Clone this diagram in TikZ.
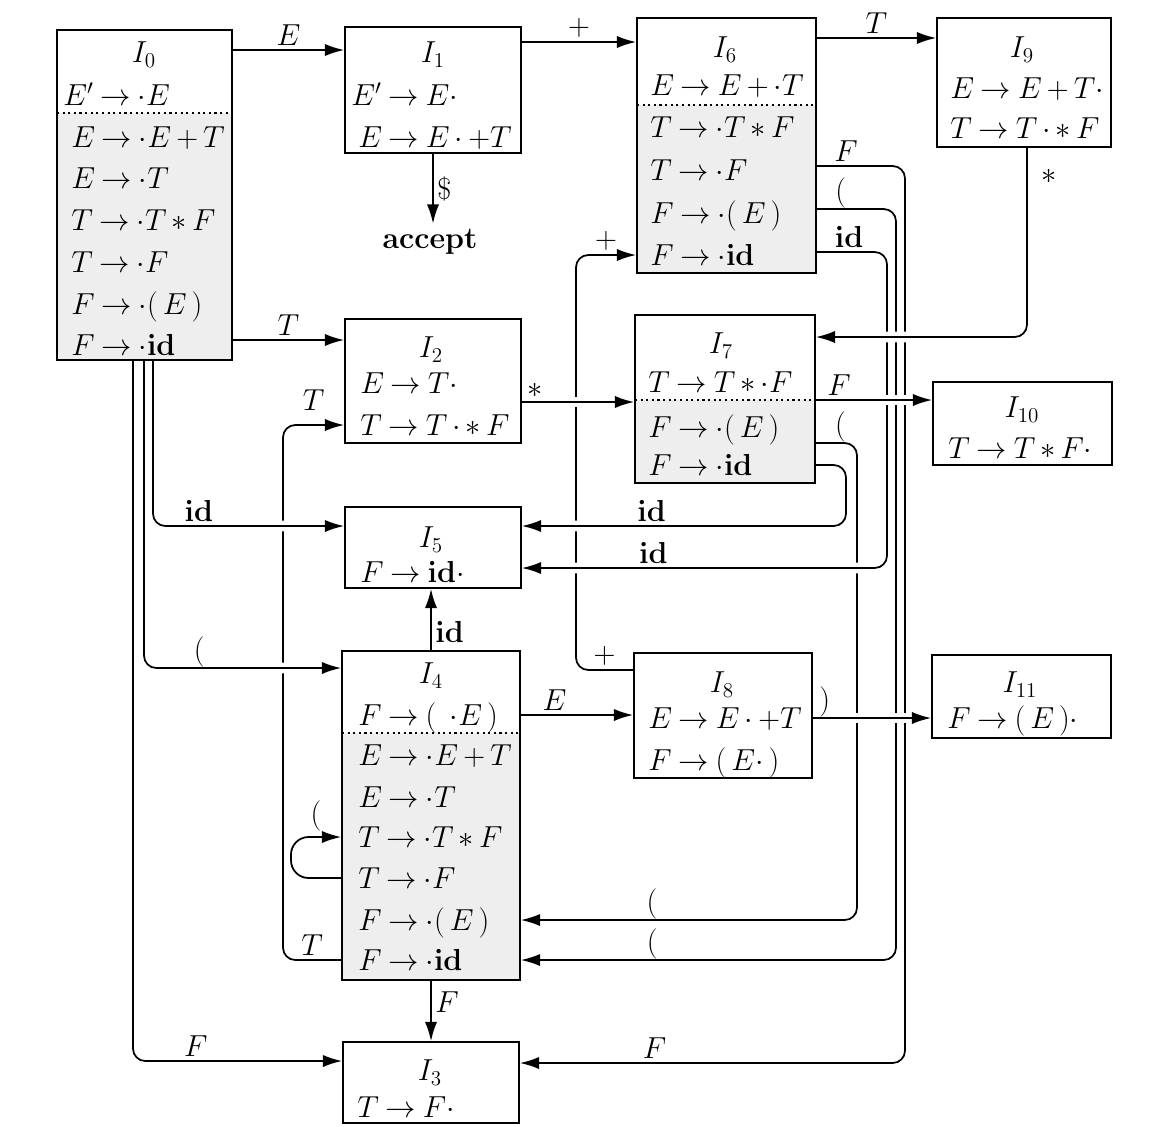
\documentclass[tikz,border=0pt]{standalone}
\usepackage{tikz}
\usetikzlibrary{arrows.meta,fit}

\begin{document}
\thickmuskip=4mu plus 2mu
\medmuskip=3mu plus 2mu minus 3mu
\begin{tikzpicture}[
  x=0.02cm, y=-0.02cm,
  state/.style={draw, line width=1pt, inner sep=0pt},
  head/.style={inner sep=0pt, text height=14pt, text depth=2pt, font=\LARGE},
  item/.style={head, anchor=west},
  closure/.style={fill=gray!13},
  cut/.style={dotted, line width=1.2pt},
  go/.style={-{Latex[length=11pt,width=7pt]}, line width=1pt, rounded corners=7pt},
  over/.style={preaction={draw=white, -, line width=6pt, shorten <=5pt, shorten >=5pt}},
  lbl/.style={font=\LARGE, inner sep=2pt},
  paren/.style={lbl, inner sep=0pt}
]
\useasboundingbox (0,0) rectangle (1163,1126);

% shaded closure items
\fill[closure] (57,113) rectangle (232,360);
\fill[closure] (637,105) rectangle (816,273);
\fill[closure] (635,400) rectangle (815,483);
\fill[closure] (342,733) rectangle (520,980);
\draw[cut] (57,113) -- (232,113);
\draw[cut] (637,105) -- (816,105);
\draw[cut] (635,400) -- (815,400);
\draw[cut] (342,733) -- (520,733);

% states
\node[state, fit={(57,30) (232,360)}] (I0) {};
\node[state, fit={(345,27) (521,153)}] (I1) {};
\node[state, fit={(345,319) (521,443)}] (I2) {};
\node[state, fit={(343,1042) (519,1123)}] (I3) {};
\node[state, fit={(342,651) (520,980)}] (I4) {};
\node[state, fit={(345,507) (521,588)}] (I5) {};
\node[state, fit={(637,18) (816,273)}] (I6) {};
\node[state, fit={(635,315) (815,483)}] (I7) {};
\node[state, fit={(634,653) (812,778)}] (I8) {};
\node[state, fit={(937,18) (1111,147)}] (I9) {};
\node[state, fit={(933,382) (1112,465)}] (I10) {};
\node[state, fit={(932,655) (1111,738)}] (I11) {};

% I0
\node[head] (t0) at (144,52) {$I_0$};
\node[item] (r0a) at (63,95) {$E'\to{\cdot}E$};
\node[item] (r0b) at (71,137) {$E\to{\cdot}E+T$};
\node[item] (r0c) at (71,178) {$E\to{\cdot}T$};
\node[item] (r0d) at (71,220) {$T\to{\cdot}T*F$};
\node[item] (r0e) at (71,262) {$T\to{\cdot}F$};
\node[item] (r0f) at (71,304) {$F\to{\cdot}(\,E\,)$};
\node[item] (r0g) at (71,345) {$F\to{\cdot}\mathbf{id}$};
% I1
\node[head] (t1) at (433,52) {$I_1$};
\node[item] (r1a) at (351,95) {$E'\to E{\cdot}$};
\node[item] (r1b) at (358,137) {$E\to E\cdot{+}T$};
\node[head] (acc) at (430,238) {\textbf{accept}};
% I2
\node[head] (t2) at (431,347) {$I_2$};
\node[item] (r2a) at (360,383) {$E\to T{\cdot}$};
\node[item] (r2b) at (360,425) {$T\to T\cdot{*}\,F$};
% I3
\node[head] (t3) at (430,1070) {$I_3$};
\node[item] (r3a) at (357,1107) {$T\to F{\cdot}$};
% I4
\node[head] (t4) at (431,673) {$I_4$};
\node[item] (r4a) at (358,715) {$F\to(\;\;{\cdot}E\,)$};
\node[item] (r4b) at (358,755) {$E\to{\cdot}E+T$};
\node[item] (r4c) at (358,797) {$E\to{\cdot}T$};
\node[item] (r4d) at (358,837) {$T\to{\cdot}T*F$};
\node[item] (r4e) at (358,878) {$T\to{\cdot}F$};
\node[item] (r4f) at (358,920) {$F\to{\cdot}(\,E\,)$};
\node[item] (r4g) at (358,960) {$F\to{\cdot}\mathbf{id}$};
% I5
\node[head] (t5) at (431,537) {$I_5$};
\node[item] (r5a) at (360,572) {$F\to\mathbf{id}{\cdot}$};
% I6
\node[head] (t6) at (725,47) {$I_6$};
\node[item] (r6a) at (650,85) {$E\to E+{\cdot}T$};
\node[item] (r6b) at (650,127) {$T\to{\cdot}T*F$};
\node[item] (r6c) at (650,170) {$T\to{\cdot}F$};
\node[item] (r6d) at (650,213) {$F\to{\cdot}(\,E\,)$};
\node[item] (r6e) at (650,255) {$F\to{\cdot}\mathbf{id}$};
% I7
\node[head] (t7) at (721,343) {$I_7$};
\node[item] (r7a) at (648,382) {$T\to T*{\cdot}F$};
\node[item] (r7b) at (648,427) {$F\to{\cdot}(\,E\,)$};
\node[item] (r7c) at (648,465) {$F\to{\cdot}\mathbf{id}$};
% I8
\node[head] (t8) at (722,682) {$I_8$};
\node[item] (r8a) at (648,718) {$E\to E\cdot{+}T$};
\node[item] (r8b) at (648,760) {$F\to(\,E{\cdot}\,)$};
% I9
\node[head] (t9) at (1022,47) {$I_9$};
\node[item] (r9a) at (950,88) {$E\to E+T{\cdot}$};
\node[item] (r9b) at (950,128) {$T\to T\cdot{*}\,F$};
% I10, I11
\node[head] (t10) at (1022,407) {$I_{10}$};
\node[item] (r10a) at (948,448) {$T\to T*F{\cdot}$};
\node[head] (t11) at (1020,682) {$I_{11}$};
\node[item] (r11a) at (947,718) {$F\to(\,E\,){\cdot}$};

% straight transitions
\draw[go] (I0.east |- 0,50) -- node[lbl,above]{$E$} (I1.west |- 0,50);
\draw[go] (I1.east |- 0,42) -- node[lbl,above]{$+$} (I6.west |- 0,42);
\draw[go] (I6.east |- 0,38) -- node[lbl,above]{$T$} (I9.west |- 0,38);
\draw[go] (I1.south) -- node[lbl,right]{\$} (I1.south |- acc.north);
\draw[go] (I0.east |- 0,340) -- node[lbl,above]{$T$} (I2.west |- 0,340);
\draw[go] (I4.north) -- node[lbl,right,pos=0.3]{$\mathbf{id}$} (I4.north |- I5.south);
\draw[go] (I4.south) -- node[lbl,right,pos=0.35]{$F$} (I4.south |- I3.north);
\draw[go] (I4.east |- r4a) -- node[lbl,above,pos=0.3]{$E$} (I8.west |- r4a);
\draw[go, rounded corners=10pt] (I4.west |- r4e) -- (291,878) -- (291,837)
  -- node[paren,above=3pt]{$($} (I4.west |- r4d);
\draw[go] (I0.south -| 133,0) -- (133,1061) -- node[lbl,above,pos=0.3]{$F$} (I3.west |- 0,1061);

% routed transitions
\draw[go] (I4.west |- r4g) -- node[lbl,above]{$T$} (283,960) -- (283,425)
  -- node[lbl,above,yshift=6pt]{$T$} (I2.west |- 0,425);
\draw[go] (I8.west |- 0,670) -- node[lbl,above]{$+$} (576,670) -- (576,255)
  -- node[lbl,above]{$+$} (I6.west |- r6e);
\draw[go, over] (I0.south -| 153,0) -- (153,526)
  -- node[lbl,above,pos=0.24]{$\mathbf{id}$} (I5.west |- 0,526);
\draw[go, over] (I0.south -| 144,0) -- (144,668)
  -- node[paren,above,pos=0.28]{$($} (I4.west |- 0,668);
\draw[go, over] (I2.east |- 0,402) -- node[lbl,above,pos=0.12]{$*$} (I7.west |- 0,402);
\draw[go, over] (I7.east |- 0,443) -- node[paren,above,pos=0.6]{$($} (857,443) -- (857,920)
  -- node[paren,above,pos=0.61]{$($} (I4.east |- r4f);
\draw[go, over] (I7.east |- r7c) -- (846,465) -- (846,526)
  -- node[lbl,above,pos=0.6]{$\mathbf{id}$} (I5.east |- 0,526);
\draw[go, over] (I6.east |- 0,166) -- node[lbl,above,pos=0.33]{$F$} (905,166) -- (905,1063)
  -- node[lbl,above,pos=0.65]{$F$} (I3.east |- 0,1063);
\draw[go, over] (I6.east |- 0,209) -- node[paren,above,pos=0.3]{$($} (896,209) -- (896,960)
  -- node[paren,above,pos=0.65]{$($} (I4.east |- r4g);
\draw[go, over] (I6.east |- 0,252) -- node[lbl,above,pos=0.46]{$\mathbf{id}$} (887,252) -- (887,568)
  -- node[lbl,above,pos=0.64]{$\mathbf{id}$} (I5.east |- 0,568);
\draw[go, over] (I9.south -| 1027,0) -- node[lbl,right,pos=0.15,xshift=6pt]{$*$} (1027,337)
  -- (I7.east |- 0,337);
\draw[go, over] (I7.east |- 0,400) -- node[lbl,above,pos=0.2]{$F$} (I10.west |- 0,400);
\draw[go, over] (I8.east |- r8a) -- node[paren,above,pos=0.1]{$)$} (I11.west |- r8a);
\end{tikzpicture}
\end{document}
